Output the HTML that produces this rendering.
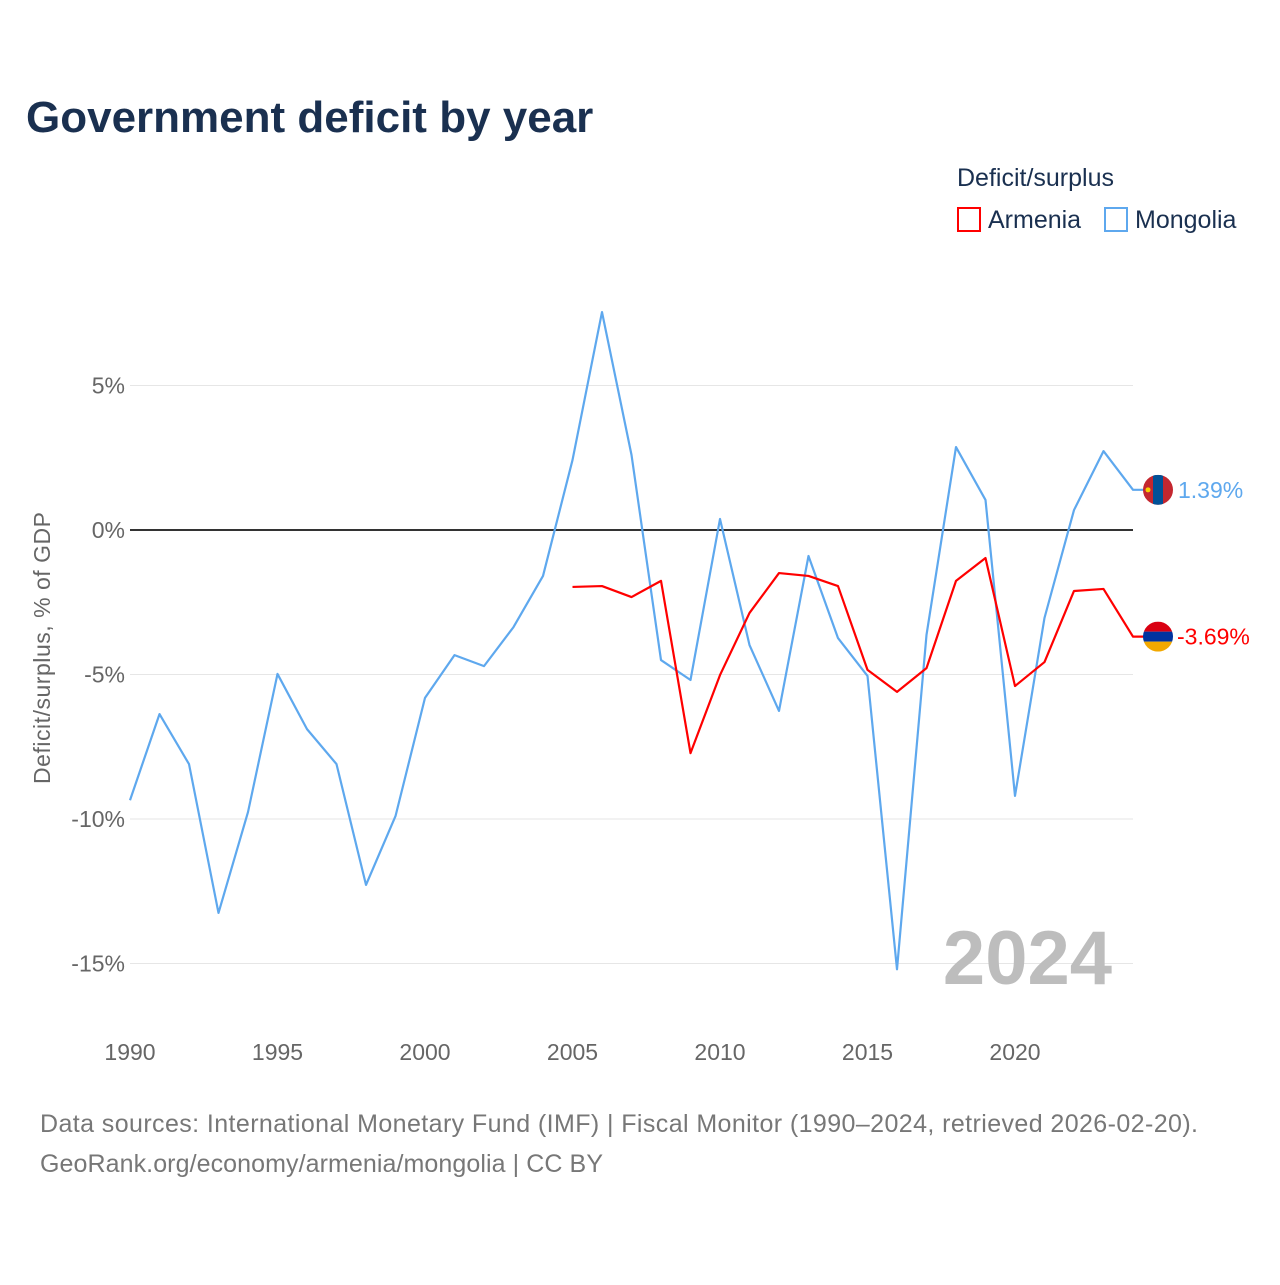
<!DOCTYPE html>
<html><head><meta charset="utf-8"><style>
body{margin:0;background:#fff;font-family:"Liberation Sans",sans-serif}
</style></head><body>
<svg id="chart" width="1280" height="1280" xmlns="http://www.w3.org/2000/svg" font-family="Liberation Sans, sans-serif">
<rect width="1280" height="1280" fill="#fff"/>
<text x="26" y="132" font-size="44" font-weight="bold" fill="#1a3050">Government deficit by year</text>
<text x="957" y="186" font-size="25" fill="#1a3050">Deficit/surplus</text>
<g><rect x="958" y="208" width="22" height="23" fill="none" stroke="#f00" stroke-width="2"/><text x="988" y="228" font-size="25" fill="#1a3050">Armenia</text></g>
<g><rect x="1105" y="208" width="22" height="23" fill="none" stroke="#5ea8ee" stroke-width="2"/><text x="1135" y="228" font-size="25" fill="#1a3050">Mongolia</text></g>
<text transform="translate(50,648) rotate(-90)" text-anchor="middle" font-size="23" fill="#666" textLength="272">Deficit/surplus, % of GDP</text>
<g id="grid"></g><g id="series"></g>
<text x="1112" y="984" text-anchor="end" font-size="76" font-weight="bold" fill="#bdbdbd">2024</text>
<text x="40" y="1132" font-size="25" fill="#777" textLength="1158">Data sources: International Monetary Fund (IMF) | Fiscal Monitor (1990–2024, retrieved 2026-02-20).</text>
<text x="40" y="1172" font-size="25" fill="#777" textLength="563">GeoRank.org/economy/armenia/mongolia | CC BY</text>
</svg>
<script>
const yTicks=[5,0,-5,-10,-15];
const xTicks=[1990,1995,2000,2005,2010,2015,2020];
const mongoliaYears=[1990,1991,1992,1993,1994,1995,1996,1997,1998,1999,2000,2001,2002,2003,2004,2005,2006,2007,2008,2009,2010,2011,2012,2013,2014,2015,2016,2017,2018,2019,2020,2021,2022,2023,2024];
const mongolia=[-9.35,-6.37,-8.1,-13.25,-9.76,-4.98,-6.89,-8.1,-12.28,-9.9,-5.81,-4.33,-4.71,-3.36,-1.59,2.42,7.54,2.6,-4.5,-5.19,0.38,-3.98,-6.26,-0.9,-3.74,-5.05,-15.2,-3.63,2.87,1.04,-9.2,-3.04,0.69,2.73,1.39];
const armeniaYears=[2005,2006,2007,2008,2009,2010,2011,2012,2013,2014,2015,2016,2017,2018,2019,2020,2021,2022,2023,2024];
const armenia=[-1.97,-1.94,-2.32,-1.76,-7.72,-5.02,-2.87,-1.49,-1.59,-1.94,-4.84,-5.6,-4.78,-1.76,-0.97,-5.4,-4.57,-2.11,-2.04,-3.69];
const NS="http://www.w3.org/2000/svg";
const xs=y=>130+(y-1990)*(1133-130)/34;
const ys=v=>530-v*28.9;
function mk(t,a,p){const e=document.createElementNS(NS,t);for(const k in a)e.setAttribute(k,a[k]);p.appendChild(e);return e;}
const grid=document.getElementById('grid'),ser=document.getElementById('series');
yTicks.forEach(v=>{
 const l=mk('line',{x1:130,x2:1133,y1:ys(v),y2:ys(v),stroke:v===0?'#333':'#e6e6e6','stroke-width':v===0?2:1},grid);
 
 
 const t=mk('text',{x:125,y:ys(v)+8,'text-anchor':'end','font-size':23,fill:'#666'},grid);t.textContent=v+'%';
 
 
});
xTicks.forEach(y=>{const t=mk('text',{x:xs(y),y:1060,'text-anchor':'middle','font-size':23,fill:'#666'},grid);t.textContent=y;
 
 });
function line(yrs,vals,col,name){
 let d=yrs.map((y,i)=>(i?'L':'M')+xs(y)+' '+ys(vals[i])).join(' ');
 d+=' L1158 '+ys(vals[vals.length-1]);
 const p=mk('path',{d:d,fill:'none',stroke:col,'stroke-width':2.2,'stroke-linejoin':'round'},ser);
 
 
}
line(mongoliaYears,mongolia,'#5ea8ee','mongolia');
line(armeniaYears,armenia,'#f00','armenia');
const my=ys(mongolia[mongolia.length-1]),ay=ys(armenia[armenia.length-1]);
const fm=mk('g',{},ser);


mk('clipPath',{id:'cm'},fm).appendChild(document.createElementNS(NS,'circle'));
const c1=fm.querySelector('circle');c1.setAttribute('cx',1158);c1.setAttribute('cy',my);c1.setAttribute('r',15);
const gm=mk('g',{'clip-path':'url(#cm)'},fm);
mk('rect',{x:1143,y:my-15,width:30,height:30,fill:'#c4272f'},gm);
mk('rect',{x:1153,y:my-15,width:10,height:30,fill:'#015197'},gm);
mk('circle',{cx:1148,cy:my,r:2.5,fill:'#f9cf02'},gm);
const fa=mk('g',{},ser);


mk('clipPath',{id:'ca'},fa).appendChild(document.createElementNS(NS,'circle'));
const c2=fa.querySelector('circle');c2.setAttribute('cx',1158);c2.setAttribute('cy',ay);c2.setAttribute('r',15);
const ga=mk('g',{'clip-path':'url(#ca)'},fa);
mk('rect',{x:1143,y:ay-15,width:30,height:10,fill:'#d90012'},ga);
mk('rect',{x:1143,y:ay-5,width:30,height:10,fill:'#0033a0'},ga);
mk('rect',{x:1143,y:ay+5,width:30,height:10,fill:'#f2a800'},ga);
const tm=mk('text',{x:1178,y:my+8,'font-size':23,fill:'#5ea8ee'},ser);tm.textContent=mongolia[mongolia.length-1].toFixed(2)+'%';


const ta=mk('text',{x:1177,y:ay+8,'font-size':23,fill:'#f00'},ser);ta.textContent=armenia[armenia.length-1].toFixed(2)+'%';


</script>
</body></html>
